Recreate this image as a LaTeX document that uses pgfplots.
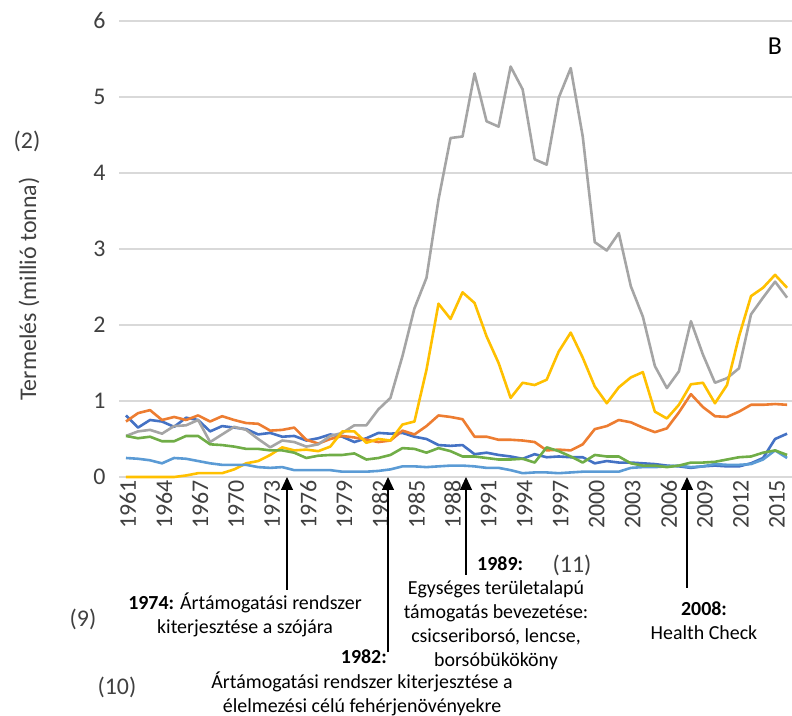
\documentclass[border=0pt]{standalone}
\usepackage{fontspec}
\setmainfont{Carlito}
\usepackage{pgfplots}
\pgfplotsset{compat=1.18}
\usepackage{pgfplotstable}
\usetikzlibrary{arrows.meta}

\definecolor{sblue}{HTML}{4472C4}
\definecolor{sorange}{HTML}{ED7D31}
\definecolor{sgray}{HTML}{A5A5A5}
\definecolor{syellow}{HTML}{FFC000}
\definecolor{slblue}{HTML}{5B9BD5}
\definecolor{sgreen}{HTML}{70AD47}
\definecolor{gridgray}{HTML}{D9D9D9}
\definecolor{ticktext}{HTML}{404040}

% year, six series (million tonnes)
\pgfplotstableread{
year  blue  orange gray  yellow lblue green
1961  0.81  0.73  0.54  0.00  0.25  0.54
1962  0.65  0.84  0.60  0.00  0.24  0.51
1963  0.75  0.88  0.62  0.00  0.22  0.53
1964  0.73  0.75  0.57  0.00  0.18  0.47
1965  0.66  0.79  0.67  0.00  0.25  0.47
1966  0.78  0.75  0.68  0.02  0.24  0.54
1967  0.75  0.81  0.75  0.05  0.21  0.54
1968  0.60  0.73  0.46  0.05  0.18  0.43
1969  0.67  0.80  0.56  0.05  0.16  0.42
1970  0.65  0.75  0.66  0.10  0.16  0.40
1971  0.63  0.71  0.62  0.18  0.16  0.37
1972  0.56  0.70  0.50  0.21  0.13  0.37
1973  0.58  0.61  0.39  0.29  0.12  0.35
1974  0.53  0.62  0.48  0.39  0.13  0.35
1975  0.54  0.65  0.46  0.35  0.09  0.32
1976  0.48  0.49  0.40  0.36  0.09  0.25
1977  0.51  0.44  0.43  0.34  0.09  0.28
1978  0.56  0.50  0.54  0.40  0.09  0.29
1979  0.53  0.54  0.58  0.60  0.07  0.29
1980  0.46  0.52  0.68  0.60  0.07  0.31
1981  0.51  0.49  0.68  0.45  0.07  0.23
1982  0.58  0.46  0.89  0.50  0.08  0.25
1983  0.57  0.48  1.04  0.48  0.10  0.29
1984  0.58  0.61  1.59  0.69  0.14  0.38
1985  0.53  0.56  2.22  0.73  0.14  0.37
1986  0.50  0.67  2.62  1.41  0.13  0.32
1987  0.42  0.81  3.65  2.28  0.14  0.38
1988  0.41  0.79  4.46  2.08  0.15  0.34
1989  0.42  0.76  4.48  2.43  0.15  0.27
1990  0.30  0.53  5.31  2.29  0.14  0.27
1991  0.32  0.53  4.68  1.85  0.12  0.25
1992  0.29  0.49  4.61  1.50  0.12  0.23
1993  0.27  0.49  5.40  1.04  0.09  0.23
1994  0.24  0.48  5.10  1.24  0.05  0.24
1995  0.30  0.46  4.18  1.21  0.06  0.19
1996  0.26  0.35  4.11  1.28  0.06  0.39
1997  0.27  0.36  4.99  1.65  0.05  0.34
1998  0.26  0.35  5.38  1.90  0.06  0.27
1999  0.26  0.43  4.48  1.57  0.07  0.19
2000  0.18  0.63  3.09  1.19  0.07  0.29
2001  0.21  0.67  2.98  0.97  0.07  0.27
2002  0.19  0.75  3.21  1.18  0.07  0.27
2003  0.19  0.72  2.51  1.31  0.12  0.18
2004  0.18  0.65  2.11  1.38  0.13  0.15
2005  0.17  0.59  1.46  0.86  0.13  0.15
2006  0.15  0.64  1.17  0.77  0.14  0.13
2007  0.14  0.85  1.39  0.95  0.15  0.15
2008  0.12  1.09  2.05  1.22  0.13  0.19
2009  0.14  0.92  1.61  1.24  0.14  0.19
2010  0.15  0.80  1.24  0.97  0.17  0.20
2011  0.14  0.79  1.30  1.21  0.16  0.23
2012  0.14  0.86  1.43  1.85  0.16  0.26
2013  0.18  0.95  2.14  2.38  0.17  0.27
2014  0.25  0.95  2.36  2.49  0.23  0.32
2015  0.50  0.96  2.57  2.66  0.35  0.35
2016  0.57  0.95  2.36  2.49  0.25  0.29
}\prod

\begin{document}
\begin{tikzpicture}[x=1bp,y=1bp]
\useasboundingbox (-119,-239) rectangle (673,477);
\begin{axis}[
  at={(0,0)}, anchor=south west,
  scale only axis, width=673bp, height=456bp,
  xmin=1960.42, xmax=2016.41, ymin=0, ymax=6,
  clip=false,
  axis line style={draw=none},
  tick style={draw=none},
  ymajorgrids, grid style={gridgray, line width=1.2bp},
  ytick={0,1,...,6},
  xtick={1961,1964,...,2015},
  xticklabels={1961,1964,1967,1970,1973,1976,1979,1982,1985,1988,1991,1994,1997,2000,2003,2006,2009,2012,2015},
  /pgf/number format/assume math mode=true,
  ticklabel style={font=\fontsize{24}{28}\selectfont, text=ticktext},
  xticklabel style={rotate=90, anchor=east, yshift=-2bp},
  yticklabel style={xshift=-10bp},
  every axis plot/.append style={line width=2.6bp, no markers, line join=round},
]
\addplot[sblue] table[x=year,y=blue] {\prod};
\addplot[sorange] table[x=year,y=orange] {\prod};
\addplot[sgray] table[x=year,y=gray] {\prod};
\addplot[syellow] table[x=year,y=yellow] {\prod};
\addplot[slblue] table[x=year,y=lblue] {\prod};
\addplot[sgreen] table[x=year,y=green] {\prod};
\end{axis}

\tikzset{big/.style={font=\fontsize{24}{28}\selectfont, text=ticktext, inner sep=0},
  note/.style={font=\fontsize{20}{24}\selectfont, align=center, inner sep=0},
  arr/.style={line width=1.1bp, -{Triangle[length=13bp,width=12bp]}}}

\node[big, rotate=90] at (-90,188) {Termelés (millió tonna)};
\node[big] at (-92,336) {(2)};
\node[big, text=black, font=\fontsize{26}{30}\selectfont] at (656,431) {B};

% policy milestones
\draw[arr] (168,-113) -- (168,0);
\node[note] at (126,-138) {\textbf{1974:} Ártámogatási rendszer\\kiterjesztése a szójára};
\node[big] at (-36,-142) {(9)};

\draw[arr] (269,-175) -- (269,0);
\node[note, anchor=east] at (268,-180) {\textbf{1982:}};
\node[note] at (243,-217) {Ártámogatási rendszer kiterjesztése a\\élelmezési célú fehérjenövényekre};
\node[big] at (-2,-210) {(10)};

\draw[arr] (347,-98) -- (347,0);
\node[note, anchor=west] at (358,-87) {\textbf{1989:}};
\node[big] at (453,-88) {(11)};
\node[note] at (377,-148) {Egységes területalapú\\támogatás bevezetése:\\csicseriborsó, lencse,\\borsóbükököny};

\draw[arr] (568,-111) -- (568,0);
\node[note] at (585,-144) {\textbf{2008:}\\Health Check};
\end{tikzpicture}
\end{document}
